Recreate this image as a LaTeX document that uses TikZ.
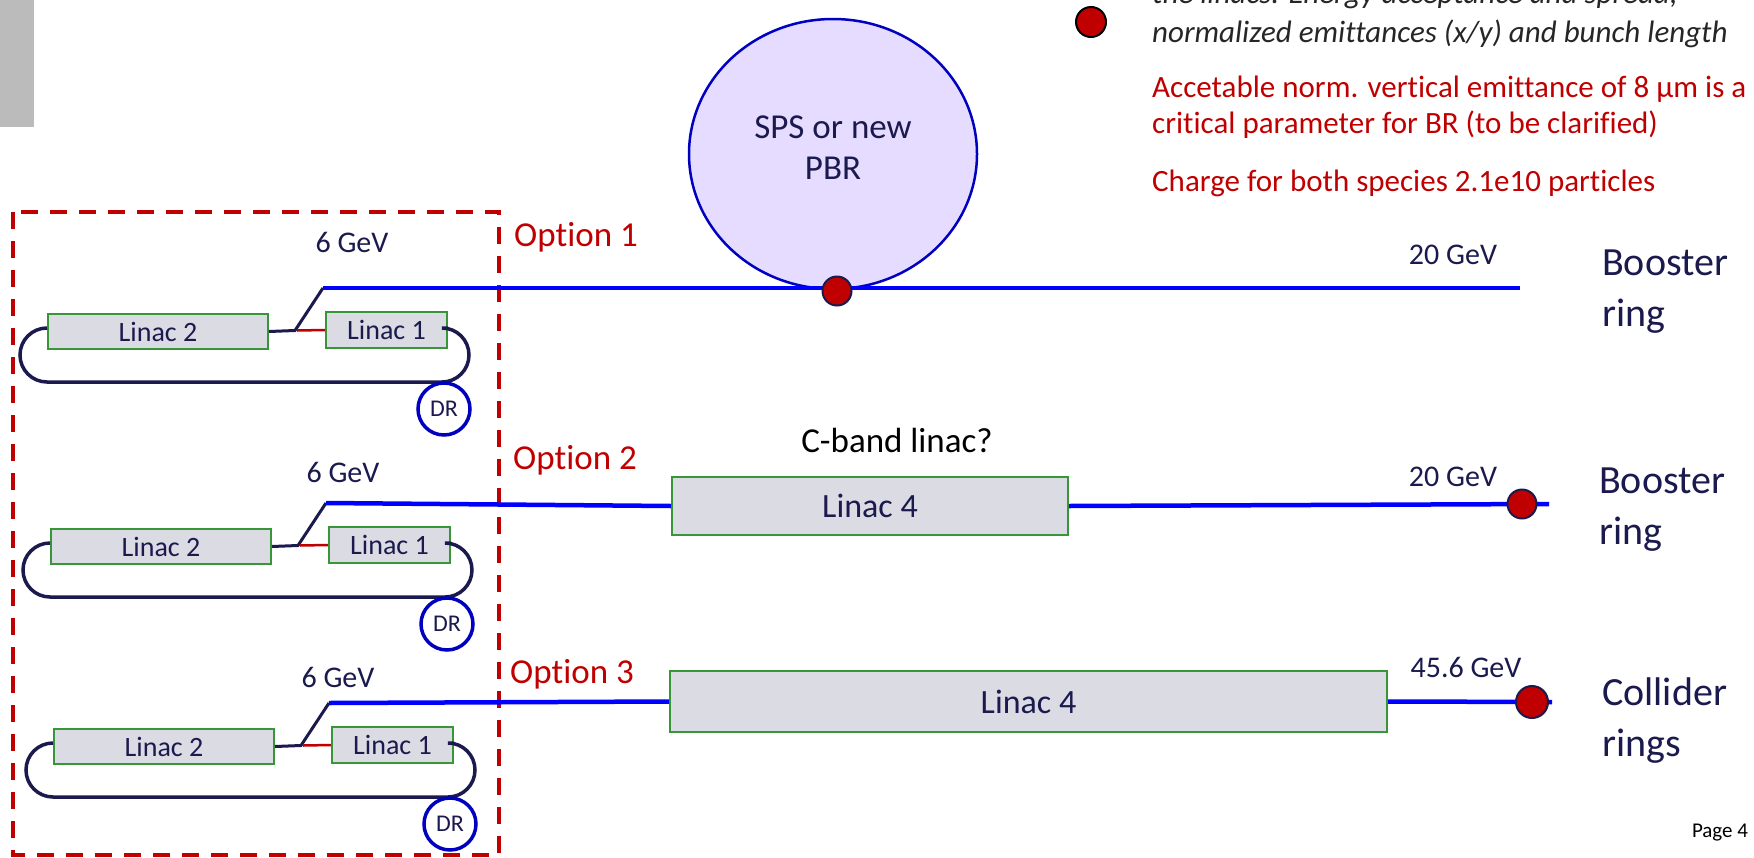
\documentclass[tikz,border=0pt]{standalone}
\usepackage{fontspec}
\setmainfont{Carlito}[Ligatures=NoCommon]
\usetikzlibrary{shapes.geometric}
\definecolor{navy}{RGB}{26,26,78}
\definecolor{boxfill}{RGB}{219,219,228}
\definecolor{boxgreen}{RGB}{56,150,56}
\definecolor{beamblue}{RGB}{0,0,255}
\definecolor{ringblue}{RGB}{0,0,192}
\definecolor{optred}{RGB}{192,0,0}
\definecolor{spsfill}{RGB}{230,220,255}
\definecolor{bargray}{RGB}{187,187,187}
\newcommand{\fs}[1]{\fontsize{#1}{#1}\selectfont}
\begin{document}
\begin{tikzpicture}[x=1pt,y=-1pt,
  linacbox/.style={draw=boxgreen, line width=2pt, fill=boxfill, text=navy, inner sep=0pt},
  beam/.style={draw=beamblue, line width=4.5pt},
  loopline/.style={draw=navy, line width=3.5pt},
  redlink/.style={draw=optred, line width=2.5pt},
  drring/.style={circle, draw=ringblue, line width=3.5pt, fill=white, minimum size=52pt, inner sep=0pt, text=navy, font=\fs{24}},
  reddot/.style={circle, draw=navy, line width=2pt, fill=optred, minimum size=29pt, inner sep=0pt},
  navytext/.style={text=navy, inner sep=0pt},
  optlabel/.style={text=optred, inner sep=0pt, font=\fs{35}},
  legendred/.style={text=optred, inner sep=0pt, anchor=base west, font=\fs{31}},
  legendblk/.style={text=black!85, inner sep=0pt, anchor=base west, font=\fs{31}\itshape},
  ringlabel/.style={text=navy, inner sep=0pt, anchor=west, align=left, font=\fontsize{40}{51}\selectfont}
]
\useasboundingbox (0,0) rectangle (1754,857);
\fill[white] (0,0) rectangle (1754,857);
% grey tab
\fill[bargray] (0,0) rectangle (34,127);

% dashed box
\draw[optred, line width=4pt, dash pattern=on 17pt off 12pt] (13,212) rectangle (499,855);

% SPS ring
\node[ellipse, draw=ringblue, line width=2.5pt, fill=spsfill, minimum width=288pt, minimum height=270pt, inner sep=0pt] (sps) at (833,154) {};
\node[navytext, align=center, font=\fontsize{35}{41}\selectfont] (spslabel) at (833,148) {SPS or new\\PBR};

% three injector blocks
\foreach \i/\dx/\dy in {1/0/0, 2/3/215, 3/6/415}{
  \begin{scope}[shift={(\dx,\dy)}]
    \node[linacbox, minimum width=220pt, minimum height=35pt, font=\fs{28}] (L2-\i) at (158,331.5) {Linac 2};
    \node[linacbox, minimum width=121pt, minimum height=36pt, font=\fs{28}] (L1-\i) at (386.5,330) {Linac 1};
    \coordinate (J-\i) at (295,330.5);
    \coordinate (T-\i) at (323,288);
    \draw[loopline] ([yshift=3.5pt]L2-\i.west) arc[start angle=90,end angle=270,radius=27pt] -- ++(395pt,0) arc[start angle=-90,end angle=90,radius=27pt] -- ([yshift=2pt]L1-\i.east);
    \draw[loopline, line width=3pt] (L2-\i.east) -- (J-\i) -- (T-\i);
    \draw[redlink] ([xshift=2pt]J-\i) -- (L1-\i.west);
    \node[drring] (DR-\i) at (444,409) {DR};
  \end{scope}
}
\node[navytext, font=\fs{30}] (gev1) at (352,242) {6 GeV};
\node[navytext, font=\fs{30}] (gev2) at (343,472) {6 GeV};
\node[navytext, font=\fs{30}] (gev3) at (338,677) {6 GeV};

% option labels
\node[optlabel] (opt1) at (576,237) {Option 1};
\node[optlabel] (opt2) at (575,460) {Option 2};
\node[optlabel] (opt3) at (572,674) {Option 3};

% Option 1 beam
\coordinate (end1) at (1520,288);
\draw[beam] (T-1) -- (end1);
\node[reddot] (dot1) at (837,291) {};
\node[navytext, font=\fs{30}] (e1) at (1453,255) {20 GeV};
\node[ringlabel] (ring1) at (1602,292) {Booster\\ring};

% Option 2
\node[linacbox, minimum width=396pt, minimum height=58pt, font=\fs{34}] (L4a) at (870,506) {Linac 4};
\node[text=black, inner sep=0pt, font=\fs{35}] (cband) at (897,440) {C-band linac?};
\coordinate (end2) at (1549,504);
\draw[beam] (T-2) -- (L4a.west);
\draw[beam] (L4a.east) -- (end2);
\node[reddot] (dot2) at (1522,504) {};
\node[navytext, font=\fs{30}] (e2) at (1453,477) {20 GeV};
\node[ringlabel] (ring2) at (1599,510) {Booster\\ring};

% Option 3
\node[linacbox, minimum width=717pt, minimum height=61pt, font=\fs{34}] (L4b) at (1028.5,701.5) {Linac 4};
\coordinate (end3) at (1552,702);
\draw[beam] (T-3) -- (L4b.west);
\draw[beam] (L4b.east) -- (end3);
\node[reddot, minimum size=32pt] (dot3) at (1532,702) {};
\node[navytext, font=\fs{30}] (e3) at (1466,667) {45.6 GeV};
\node[ringlabel] (ring3) at (1602,721) {Collider\\rings};

% legend
\node[circle, draw=black, line width=2pt, fill=optred, minimum size=30pt, inner sep=0pt] (legdot) at (1091,22) {};
\node[legendblk] (leg0) at (1152,3) {the linacs. Energy acceptance and spread,};
\node[legendblk] (leg1) at (1152,42) {normalized emittances (x/y) and bunch length};
\node[legendred] (leg2) at (1152,97) {Accetable norm. vertical emittance of 8 μm is a};
\node[legendred] (leg3) at (1152,133) {critical parameter for BR (to be clarified)};
\node[legendred] (leg4) at (1152,191) {Charge for both species 2.1e10 particles};

\node[text=black, inner sep=0pt, font=\fs{21}] (page) at (1720,833) {Page 4};
\end{tikzpicture}
\end{document}
